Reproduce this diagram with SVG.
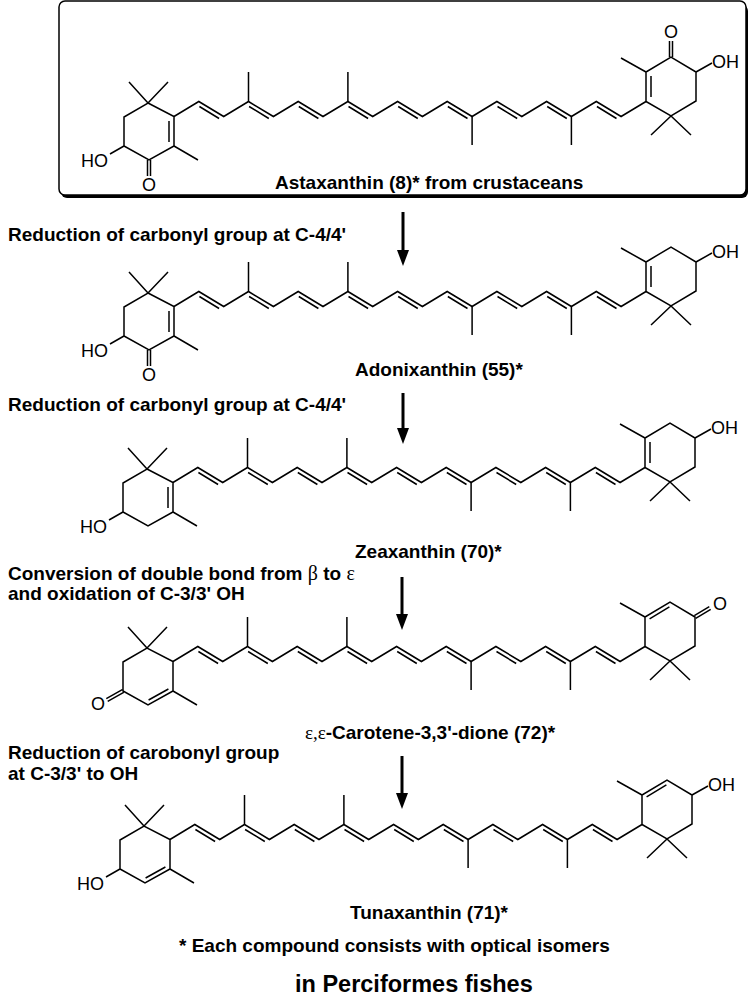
<svg xmlns="http://www.w3.org/2000/svg" xmlns:xlink="http://www.w3.org/1999/xlink" width="754" height="1000" viewBox="0 0 754 1000">
<style>
.b{fill:none;stroke:#000;stroke-width:1.5;stroke-linejoin:miter;stroke-linecap:butt}
.a{font-family:"Liberation Sans",Arial,sans-serif;font-size:18px;fill:#000}
.t{font-family:"Liberation Sans",Arial,sans-serif;font-size:19px;font-weight:bold;fill:#000}
.g{font-family:"Liberation Serif","Times New Roman",serif;font-weight:normal}
.arr{stroke:#000;stroke-width:3}
</style>
<defs>
<g id="chain" class="b">
<polyline points="174,116.5 198.8,101.5 223.7,116.5 248.5,101.5 273.4,116.5 298.2,101.5 323,116.5 347.9,101.5 372.7,116.5 397.6,101.5 422.4,116.5 447.2,101.5 472.1,116.5 496.9,101.5 521.8,116.5 546.6,101.5 571.4,116.5 596.3,101.5 621.1,116.5 646,101.5"/>
<path d="M199.4,106.5L219.1,118.5M249.1,106.5L268.8,118.5M298.8,106.5L318.4,118.5M348.5,106.5L368.1,118.5M398.2,106.5L417.8,118.5M447.8,106.5L467.5,118.5M497.5,106.5L517.2,118.5M547.2,106.5L566.8,118.5M596.9,106.5L616.5,118.5"/>
<path d="M248.5,101.5V72M347.9,101.5V72M472.1,116.5V145M571.4,116.5V145"/>
</g>
<g id="LZring" class="b">
<polygon points="148,103 174,116.5 174,146 149,160 124,146 124,117"/>
<path d="M148,103L129,82M148,103L168,82M174,146L198,160M124,146L110,154"/>
</g>
<g id="LB"><use xlink:href="#LZring"/><path class="b" d="M169,121V142"/></g>
<g id="LA"><use xlink:href="#LB"/><path class="b" d="M147.5,160V176M150.5,160V176"/></g>
<g id="LE">
<path class="b" d="M124,117L148,103L174,116.5L174,146L149,160L124,146Z M148,103L129,82M148,103L168,82M174,146L198,160M169.4,144L149.6,155M124.7,147.3L108.7,156.3M123.3,144.7L107.3,153.7"/>
<text class="a" x="99" y="165" text-anchor="middle">O</text>
</g>
<g id="LT">
<path class="b" d="M124,117L148,103L174,116.5L174,146L149,160L124,146Z M148,103L129,82M148,103L168,82M174,146L198,160M169.4,144L149.6,155M124,146L110,154"/>
</g>
<g id="RZ">
<polygon class="b" points="646,101.5 646,72 671,57 696,72 696,101 671,116"/>
<path class="b" d="M646,72L621,58M671,116L651,135M671,116L691,135M651,76V97M696,72L712,63"/>
<text class="a" x="712" y="68">OH</text>
</g>
<g id="RA"><use xlink:href="#RZ"/><path class="b" d="M669.5,57V41M672.5,57V41"/><text class="a" x="671" y="38" text-anchor="middle">O</text></g>
<g id="RE">
<polygon class="b" points="646,101.5 646,72 671,57 696,72 696,101 671,116"/>
<path class="b" d="M646,72L621,58M671,116L651,135M671,116L691,135M650.6,73.9L670.4,61.9M696.7,73.3L711.7,64.3M695.3,70.7L710.3,61.7"/>
<text class="a" x="721" y="65" text-anchor="middle">O</text>
</g>
<g id="RT">
<polygon class="b" points="646,101.5 646,72 671,57 696,72 696,101 671,116"/>
<path class="b" d="M646,72L621,58M671,116L651,135M671,116L691,135M650.6,73.9L670.4,61.9M696,72L712,63"/>
<text class="a" x="712" y="68">OH</text>
</g>
</defs>

<g id="box">
<rect x="61" y="5" width="687" height="193" rx="6" fill="#000"/>
<rect x="59" y="1" width="687" height="194" rx="6" fill="#fff" stroke="#000" stroke-width="1.5"/>
</g>

<g id="astaxanthin">
<use xlink:href="#chain"/><use xlink:href="#LA"/><use xlink:href="#RA"/>
<text class="a" x="108" y="167" text-anchor="end">HO</text>
<text class="a" x="149" y="191" text-anchor="middle">O</text>
<text class="t" x="275" y="189">Astaxanthin (8)* from crustaceans</text>
</g>

<g id="adonixanthin">
<g transform="translate(0,190)">
<use xlink:href="#chain"/><use xlink:href="#LA"/><use xlink:href="#RZ"/>
<text class="a" x="108" y="167" text-anchor="end">HO</text>
<text class="a" x="149" y="191" text-anchor="middle">O</text>
</g>
<text class="t" x="355" y="376">Adonixanthin (55)*</text>
</g>

<g id="zeaxanthin">
<g transform="translate(-1,366)">
<use xlink:href="#chain"/><use xlink:href="#LB"/><use xlink:href="#RZ"/>
<text class="a" x="108" y="167" text-anchor="end">HO</text>
</g>
<text class="t" x="355" y="558">Zeaxanthin (70)*</text>
</g>

<g id="dione">
<g transform="translate(-1,545)">
<use xlink:href="#chain"/><use xlink:href="#LE"/><use xlink:href="#RE"/>
</g>
<text class="t" x="305" y="739"><tspan class="g">ε,ε</tspan>-Carotene-3,3'-dione (72)*</text>
</g>

<g id="tunaxanthin">
<g transform="translate(-4,723)">
<use xlink:href="#chain"/><use xlink:href="#LT"/><use xlink:href="#RT"/>
<text class="a" x="108" y="167" text-anchor="end">HO</text>
</g>
<text class="t" x="350" y="919">Tunaxanthin (71)*</text>
</g>

<g id="steps">
<text class="t" x="8" y="241">Reduction of carbonyl group at C-4/4'</text>
<text class="t" x="8" y="411">Reduction of carbonyl group at C-4/4'</text>
<text class="t" x="8" y="580">Conversion of double bond from <tspan class="g" style="font-size:20px">β</tspan> to <tspan class="g" style="font-size:20px">ε</tspan></text>
<text class="t" x="8" y="600">and oxidation of C-3/3' OH</text>
<text class="t" x="8" y="759">Reduction of carobonyl group</text>
<text class="t" x="8" y="780">at C-3/3' to OH</text>
<text class="t" x="179" y="952">* Each compound consists with optical isomers</text>
<text class="t" x="295" y="992" style="font-size:23.5px">in Perciformes fishes</text>
</g>

<g id="connectors">
<line class="arr" x1="403" y1="212" x2="403" y2="252"/><polygon points="397,250 409,250 403,266"/>
<line class="arr" x1="403" y1="393" x2="403" y2="430"/><polygon points="397,428 409,428 403,444"/>
<line class="arr" x1="402" y1="577" x2="402" y2="616"/><polygon points="396,614 408,614 402,630"/>
<line class="arr" x1="402" y1="756" x2="402" y2="795"/><polygon points="396,793 408,793 402,809"/>
</g>
</svg>
